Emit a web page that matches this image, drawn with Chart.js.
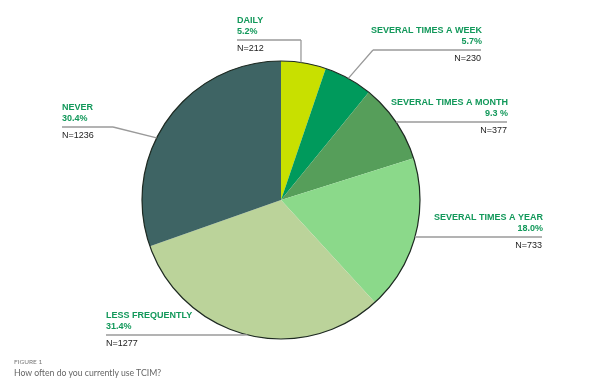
<!DOCTYPE html>
<html>
<head>
<meta charset="utf-8">
<script src="https://cdn.jsdelivr.net/npm/chart.js@4/dist/chart.umd.min.js"></script>
<style>
  body { margin: 0; background: #fff; }
  #wrap { position: relative; width: 600px; height: 389px; }
  .cap { position: absolute; left: 14px; font-family: Lato, "Open Sans", sans-serif; color: #777; white-space: nowrap; }
</style>
</head>
<body>
<div id="wrap">
  <canvas id="grafico" width="600" height="389"></canvas>
  <div class="cap" style="top:358px;font-size:6.5px;">FIGURE 1</div>
  <div class="cap" style="top:367px;font-size:8.7px;color:#666;">How often do you currently use TCIM?</div>
</div>
<script>
const categories = ["DAILY", "SEVERAL TIMES A WEEK", "SEVERAL TIMES A MONTH", "SEVERAL TIMES A YEAR", "LESS FREQUENTLY", "NEVER"];
const responses = [212, 230, 377, 733, 1277, 1236];
const percents = ["5.2%", "5.7%", "9.3 %", "18.0%", "31.4%", "30.4%"];
const colors = ["#c8e000", "#009a5c", "#569e5a", "#8bd98a", "#bbd39a", "#3e6464"];

// where each callout sits (underline y, underline x range, text side, anchor on the slice)
const callouts = [
  { y: 40, x1: 237, x2: 301, align: "left", frac: 0.44 },
  { y: 50, x1: 373, x2: 481, align: "right", frac: 0.5 },
  { y: 122, x1: 397, x2: 507, align: "right", frac: 0.5 },
  { y: 237, x1: 416, x2: 542, align: "right", frac: 0.5 },
  { y: 335, x1: 106, x2: 243, align: "left", frac: 0.5 },
  { y: 127, x1: 62, x2: 113, align: "left", frac: 0.42 },
];

const calloutPlugin = {
  id: "callouts",
  afterDatasetsDraw(chart) {
    const ctx = chart.ctx;
    const arcs = chart.getDatasetMeta(0).data;
    const first = arcs[0];

    // outer outline of the pie
    ctx.save();
    ctx.beginPath();
    ctx.arc(first.x, first.y, first.outerRadius, 0, Math.PI * 2);
    ctx.strokeStyle = "#1e2a22";
    ctx.lineWidth = 1.2;
    ctx.stroke();

    arcs.forEach((arc, i) => {
      const c = callouts[i];
      const ang = arc.startAngle + (arc.endAngle - arc.startAngle) * c.frac;
      const ax = arc.x + Math.cos(ang) * arc.outerRadius;
      const ay = arc.y + Math.sin(ang) * arc.outerRadius;
      const near = Math.abs(c.x1 - ax) < Math.abs(c.x2 - ax) ? c.x1 : c.x2;

      ctx.beginPath();
      ctx.moveTo(c.x1, c.y);
      ctx.lineTo(c.x2, c.y);
      ctx.moveTo(near, c.y);
      ctx.lineTo(ax, ay);
      ctx.strokeStyle = "#9a9a9a";
      ctx.lineWidth = 1.3;
      ctx.stroke();

      const tx = c.align === "left" ? c.x1 : c.x2 + 1;
      ctx.textAlign = c.align;
      ctx.textBaseline = "middle";
      ctx.fillStyle = "#12985a";
      ctx.font = "bold 9px 'Liberation Sans', Arial, sans-serif";
      ctx.fillText(categories[i], tx, c.y - 19);
      ctx.fillText(percents[i], tx, c.y - 8);
      ctx.fillStyle = "#222";
      ctx.font = "9px 'Liberation Sans', Arial, sans-serif";
      ctx.fillText("N=" + responses[i], c.align === "left" ? c.x1 : c.x2, c.y + 9);
    });
    ctx.restore();
  },
};

const config = {
  type: "pie",
  data: {
    labels: categories,
    datasets: [
      {
        data: responses,
        backgroundColor: colors,
        borderWidth: 0,
      },
    ],
  },
  options: {
    responsive: false,
    animation: false,
    layout: { padding: { left: 142, right: 180, top: 61, bottom: 50 } },
    plugins: {
      legend: { display: false },
      tooltip: { enabled: false },
    },
  },
  plugins: [calloutPlugin],
};

new Chart(document.getElementById("grafico"), config);
</script>
</body>
</html>
